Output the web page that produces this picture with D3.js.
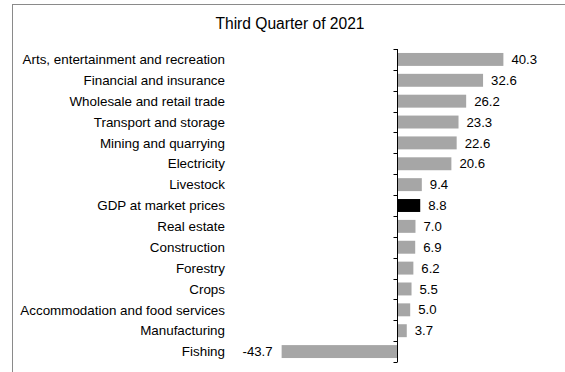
<!DOCTYPE html>
<html>
<head>
<meta charset="utf-8">
<script src="https://cdn.jsdelivr.net/npm/d3@7"></script>
<style>
  html, body { margin: 0; padding: 0; background: #fff; }
  svg { display: block; font-family: Arial, "Liberation Sans", sans-serif; }
</style>
</head>
<body>
<svg id="chart" width="565" height="372"></svg>
<script>
// Growth by sector, third quarter of 2021 (%)
const categories = [
  "Arts, entertainment and recreation",
  "Financial and insurance",
  "Wholesale and retail trade",
  "Transport and storage",
  "Mining and quarrying",
  "Electricity",
  "Livestock",
  "GDP at market prices",
  "Real estate",
  "Construction",
  "Forestry",
  "Crops",
  "Accommodation and food services",
  "Manufacturing",
  "Fishing"
];
const values = [40.3, 32.6, 26.2, 23.3, 22.6, 20.6, 9.4, 8.8, 7.0, 6.9, 6.2, 5.5, 5.0, 3.7, -43.7];
const highlight = "GDP at market prices";
const title = "Third Quarter of 2021";

const data = categories.map((c, i) => ({ name: c, value: values[i] }));

const svg = d3.select("#chart");

// Outer frame (runs off the right and bottom edges)
svg.append("rect")
  .attr("x", 12.5).attr("y", 4.5)
  .attr("width", 600).attr("height", 400)
  .attr("fill", "none")
  .attr("stroke", "#8a8a8a")
  .attr("stroke-width", 1);

svg.append("text")
  .attr("x", 290).attr("y", 29)
  .attr("text-anchor", "middle")
  .attr("font-size", 15.6)
  .attr("fill", "#000")
  .text(title);

const x = d3.scaleLinear().domain([-50, 50]).range([265, 529]);
const y = d3.scaleBand().domain(categories).range([49, 362]).paddingInner(0.38).paddingOuter(0.19);

// Bars
svg.append("g").selectAll("rect")
  .data(data)
  .join("rect")
  .attr("x", d => x(Math.min(0, d.value)))
  .attr("y", d => y(d.name))
  .attr("width", d => Math.abs(x(d.value) - x(0)))
  .attr("height", y.bandwidth())
  .attr("fill", d => d.name === highlight ? "#000" : "#a6a6a6");

// Category axis at zero, ticks between categories
const x0 = Math.round(x(0)) + 0.5;
const step = y.step();
const boundaries = d3.range(categories.length + 1).map(i => 49 + i * step);
const axis = svg.append("g");
axis.append("line")
  .attr("x1", x0).attr("x2", x0)
  .attr("y1", boundaries[0]).attr("y2", boundaries[boundaries.length - 1])
  .attr("stroke", "#000").attr("stroke-width", 1);
axis.selectAll("line.tick")
  .data(boundaries)
  .join("line")
  .attr("class", "tick")
  .attr("x1", x0 - 4).attr("x2", x0)
  .attr("y1", d => Math.round(d) + 0.5).attr("y2", d => Math.round(d) + 0.5)
  .attr("stroke", "#000").attr("stroke-width", 1);

// Category labels
svg.append("g").selectAll("text")
  .data(data)
  .join("text")
  .attr("x", 225)
  .attr("y", d => y(d.name) + y.bandwidth() / 2)
  .attr("dy", "0.35em")
  .attr("text-anchor", "end")
  .attr("font-size", 13.4)
  .attr("fill", "#000")
  .text(d => d.name);

// Value labels (plain hyphen for negatives)
const fmt = v => (v < 0 ? "-" : "") + Math.abs(v).toFixed(1);
svg.append("g").selectAll("text")
  .data(data)
  .join("text")
  .attr("x", d => d.value >= 0 ? x(d.value) + 8 : x(d.value) - 9)
  .attr("y", d => y(d.name) + y.bandwidth() / 2)
  .attr("dy", "0.35em")
  .attr("text-anchor", d => d.value >= 0 ? "start" : "end")
  .attr("font-size", 13.2)
  .attr("fill", "#000")
  .text(d => fmt(d.value));
</script>
</body>
</html>
